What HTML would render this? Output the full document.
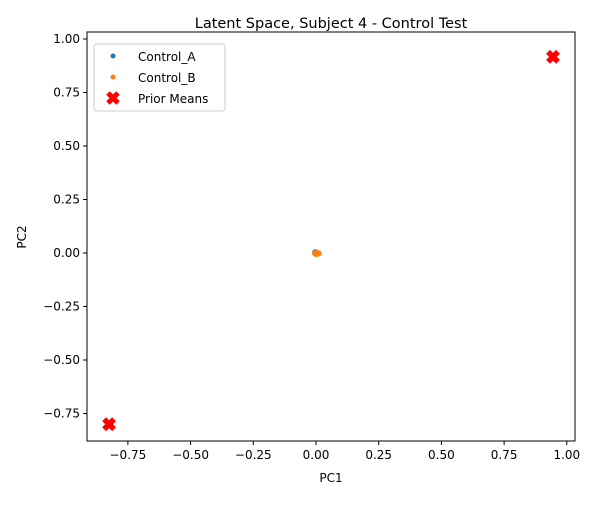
<!DOCTYPE html>
<html><head><meta charset="utf-8"><style>body{margin:0;background:#fff}svg text{font-family:"DejaVu Sans","Liberation Sans",sans-serif;fill:#000}</style></head>
<body>
<svg id="c" width="600" height="500"></svg>
<script>
const xTicks=[-0.75,-0.5,-0.25,0,0.25,0.5,0.75,1.0];
const yTicks=[-0.75,-0.5,-0.25,0,0.25,0.5,0.75,1.0];
const controlAX=[0.0,-0.004,0.003,0.002];
const controlAY=[0.002,0.004,0.001,-0.001];
const controlBX=[-0.004,0.0,0.004,0.008,0.012,-0.002,0.006,0.002];
const controlBY=[-0.002,0.0,-0.004,-0.003,-0.002,-0.004,0.0,-0.005];
const priorX=[-0.825,0.945];
const priorY=[-0.80,0.917];
const L=87,R=575,T=32,B=441;
const sx=v=>316+v*250.8, sy=v=>253-v*214;
const s=document.getElementById('c'),NS='http://www.w3.org/2000/svg';
function mk(t,a,p){const e=document.createElementNS(NS,t);for(const k in a)e.setAttribute(k,a[k]);(p||s).appendChild(e);return e;}
function tx(x,y,str,anchor,size,extra){const e=mk('text',Object.assign({x:x,y:y,'text-anchor':anchor,'font-size':size},extra||{}));e.textContent=str;return e;}
const fmt=v=>(v<0?'\u2212':'')+Math.abs(v).toFixed(2);
xTicks.forEach(v=>{const x=sx(v);mk('line',{x1:x,x2:x,y1:B,y2:B+4,stroke:'#000'});const t=tx(x,B+18,fmt(v),'middle',12);

});
yTicks.forEach(v=>{const y=sy(v);mk('line',{x1:L-4,x2:L,y1:y,y2:y,stroke:'#000'});const t=tx(L-7,y+4,fmt(v),'end',12);

});
const frame=mk('rect',{x:L,y:T,width:R-L,height:B-T,fill:'none',stroke:'#000','stroke-width':1});


controlAX.forEach((v,i)=>{const c=mk('circle',{cx:sx(v),cy:sy(controlAY[i]),r:3,fill:'#1f77b4','fill-opacity':0.8});

});
controlBX.forEach((v,i)=>{const c=mk('circle',{cx:sx(v),cy:sy(controlBY[i]),r:3,fill:'#ff7f0e','fill-opacity':0.8});

});
function cross(x,y,sz){return mk('path',{d:`M${x-sz},${y-sz}L${x+sz},${y+sz}M${x-sz},${y+sz}L${x+sz},${y-sz}`,stroke:'#f00','stroke-width':5.5});}
priorX.forEach((v,i)=>{const p=cross(sx(v),sy(priorY[i]),5);

});
const ti=tx(331,28,'Latent Space, Subject 4 - Control Test','middle',14.5);


const xl=tx(331,482,'PC1','middle',12);


const yl=tx(0,0,'PC2','middle',12,{transform:'translate(26,237) rotate(-90)'});


const lg=mk('g',{});


mk('rect',{x:94,y:44,width:131,height:67,rx:3,fill:'#fff',stroke:'#ccc'},lg);
mk('circle',{cx:113,cy:56,r:2.5,fill:'#1f77b4'},lg);
tx(138,61,'Control_A','start',12);
mk('circle',{cx:113,cy:77,r:2.5,fill:'#ff7f0e'},lg);
tx(138,82,'Control_B','start',12);
mk('path',{d:'M108,93L118,103M108,103L118,93',stroke:'#f00','stroke-width':5},lg);
tx(138,103,'Prior Means','start',12);
</script>
</body></html>
